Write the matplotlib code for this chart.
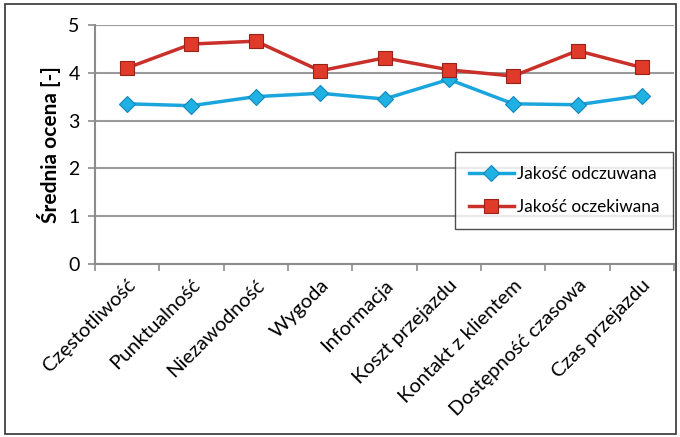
import matplotlib.pyplot as plt
from matplotlib.patches import Rectangle

categories = ['Częstotliwość', 'Punktualność', 'Niezawodność', 'Wygoda', 'Informacja',
              'Koszt przejazdu', 'Kontakt z klientem', 'Dostępność czasowa', 'Czas przejazdu']
odczuwana = [3.35, 3.31, 3.50, 3.57, 3.45, 3.86, 3.35, 3.33, 3.52]
oczekiwana = [4.10, 4.60, 4.66, 4.04, 4.31, 4.06, 3.93, 4.46, 4.11]

plt.rcParams['font.family'] = ['Lato', 'DejaVu Sans']

fig = plt.figure(figsize=(6.8, 4.37), dpi=100)
ax = fig.add_axes([0.1397, 0.396, 0.8515, 0.547])

x = list(range(len(categories)))
ax.plot(x, odczuwana, color='#1aa6dc', lw=2.5, marker='D', ms=8,
        mfc='#1fb0e4', mec='#1488b8', mew=0.8, label='Jakość odczuwana', zorder=3)
ax.plot(x, oczekiwana, color='#c9302a', lw=2.5, marker='s', ms=10,
        mfc='#e03a2a', mec='#9a2218', mew=0.8, label='Jakość oczekiwana', zorder=3)

ax.set_xlim(-0.5, len(categories) - 0.5)
ax.set_ylim(0, 5)
ax.set_yticks([0, 1, 2, 3, 4, 5])
ax.set_xticks([i - 0.5 for i in range(len(categories) + 1)], minor=False)
ax.set_xticklabels([])
ax.set_xticks(x, minor=True)
ax.set_xticklabels(categories, minor=True, rotation=45, ha='right', va='top',
                   rotation_mode='anchor', fontsize=14.5)
ax.tick_params(axis='x', which='minor', length=0, pad=9)
ax.tick_params(axis='x', which='major', length=5, color='#8c8c8c', width=1.2)
ax.tick_params(axis='y', length=5, color='#8c8c8c', width=1.2, labelsize=14, pad=6)

ax.grid(axis='y', color='#9a9a9a', lw=1.5)
ax.set_axisbelow(True)
for side in ['top', 'right']:
    ax.spines[side].set_visible(False)
for side in ['left', 'bottom']:
    ax.spines[side].set_color('#8c8c8c')
    ax.spines[side].set_linewidth(1.5)

ax.set_ylabel('Średnia ocena [-]', fontsize=15, fontweight='bold', labelpad=5)

leg = ax.legend(loc='upper left', bbox_to_anchor=(0.622, 0.469), fontsize=12.4,
                frameon=True, fancybox=False, borderpad=0.8, labelspacing=1.0,
                handlelength=2.6, handletextpad=0.2, borderaxespad=0)
leg.get_frame().set_edgecolor('#222222')
leg.get_frame().set_linewidth(1.0)

# outer frame around the whole chart
fig.patches.append(Rectangle((5 / 680, 3 / 437), 671 / 680, 430 / 437,
                             transform=fig.transFigure, fill=False,
                             edgecolor='#333333', lw=1.2))

fig.savefig('out.png', dpi=100)
